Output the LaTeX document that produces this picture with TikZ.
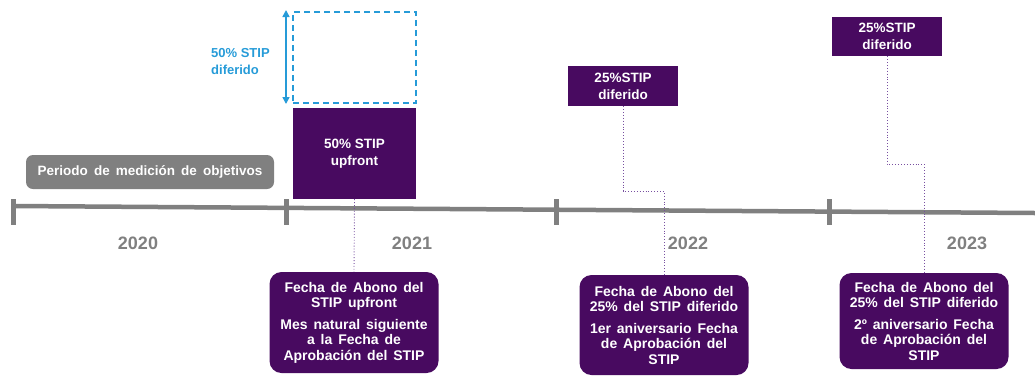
\documentclass[tikz,border=0pt]{standalone}
\usepackage{fontspec}
\setmainfont{Liberation Sans}
\usetikzlibrary{arrows.meta}
\definecolor{stpurple}{RGB}{72,10,96}
\definecolor{stblue}{RGB}{38,155,216}
\definecolor{stgray}{RGB}{128,128,128}
\definecolor{stdot}{RGB}{120,80,160}
\newcommand\widesp{\spaceskip=0.42em plus 0.1em\relax}
\newcommand\widerSp{\spaceskip=0.45em plus 0.1em\relax}
\tikzset{
  tl/.style={draw=stgray, line width=4.5pt},
  tick/.style={draw=stgray, line width=5pt},
  yearlbl/.style={text=stgray, font=\bfseries\fontsize{18}{20}\selectfont},
  pbox/.style={fill=stpurple, draw=none, inner sep=0pt, text=white, align=center,
    font=\bfseries\fontsize{13.5}{17}\selectfont},
  rbox/.style={pbox, rounded corners=12pt, font=\bfseries\fontsize{14}{15.5}\selectfont,
    execute at begin node=\widesp},
  gbox/.style={fill=stgray, draw=none, rounded corners=7pt, inner sep=0pt, text=white,
    font=\bfseries\fontsize{13.5}{16}\selectfont, execute at begin node=\widerSp},
  dbox/.style={draw=stblue, line width=1.5pt, dash pattern=on 6pt off 4pt, inner sep=0pt},
  conn/.style={draw=stdot, line width=0.9pt, dotted},
  darr/.style={draw=stblue, line width=1.5pt, {Triangle[length=7pt,width=7pt]}-{Triangle[length=7pt,width=7pt]}},
}
\begin{document}
\begin{tikzpicture}[x=1pt,y=-1pt]
\useasboundingbox (0,0) rectangle (1035,376);
% timeline
\coordinate (tlL) at (13,206);
\coordinate (tlR) at (1035,213);
\draw[tl] (tlL) -- (tlR);
\foreach \x/\n in {13/t0,286/t1,556/t2,829/t3}{
  \coordinate (\n a) at (\x,199);
  \coordinate (\n b) at (\x,225);
  \draw[tick] (\n a) -- (\n b);
}
% years
\node[yearlbl] (y2020) at (138,243) {2020};
\node[yearlbl] (y2021) at (412,243) {2021};
\node[yearlbl] (y2022) at (688,243) {2022};
\node[yearlbl] (y2023) at (967,243) {2023};
% periodo
\node[gbox, minimum width=248pt, minimum height=34pt] (per) at (150,172) {Periodo de medición de objetivos};
% dashed deferred box
\node[dbox, minimum width=123pt, minimum height=91pt] (dash) at (354.5,57.5) {};
\coordinate (arT) at (286,10);
\coordinate (arB) at (286,104);
\draw[darr] (arT) -- (arB);
\node[anchor=west, text=stblue, align=left, inner sep=0pt,
  font=\bfseries\fontsize{13}{17}\selectfont] (dlbl) at (211,61.5) {50\% STIP\\diferido};
% upfront
\node[pbox, minimum width=123pt, minimum height=91pt] (up) at (354.5,153.5) {50\% STIP\\upfront};
% upper deferred boxes
\node[pbox, minimum width=110pt, minimum height=40pt] (u2) at (623,86) {25\%STIP\\diferido};
\node[pbox, minimum width=110pt, minimum height=39pt] (u3) at (887,36.5) {25\%STIP\\diferido};
% bottom boxes
\node[rbox, minimum width=169pt, minimum height=101pt] (b1) at (354,322.5)
  {Fecha de Abono del\\STIP upfront\\[6pt]Mes natural siguiente\\a la Fecha de\\Aprobación del STIP};
\node[rbox, minimum width=169pt, minimum height=100pt] (b2) at (664,325)
  {Fecha de Abono del\\25\% del STIP diferido\\[6pt]1er aniversario Fecha\\de Aprobación del\\STIP};
\node[rbox, minimum width=169pt, minimum height=96pt] (b3) at (924,321)
  {Fecha de Abono del\\25\% del STIP diferido\\[6pt]2º aniversario Fecha\\de Aprobación del\\STIP};
% connectors
\draw[conn] (up.south) -- (b1.north);
\coordinate (k2) at (664,191);
\draw[conn] (u2.south) -- (u2.south |- k2) -- (k2) -- (b2.north);
\coordinate (k3) at (924,164);
\draw[conn] (u3.south) -- (u3.south |- k3) -- (k3) -- (b3.north);
\end{tikzpicture}
\end{document}
